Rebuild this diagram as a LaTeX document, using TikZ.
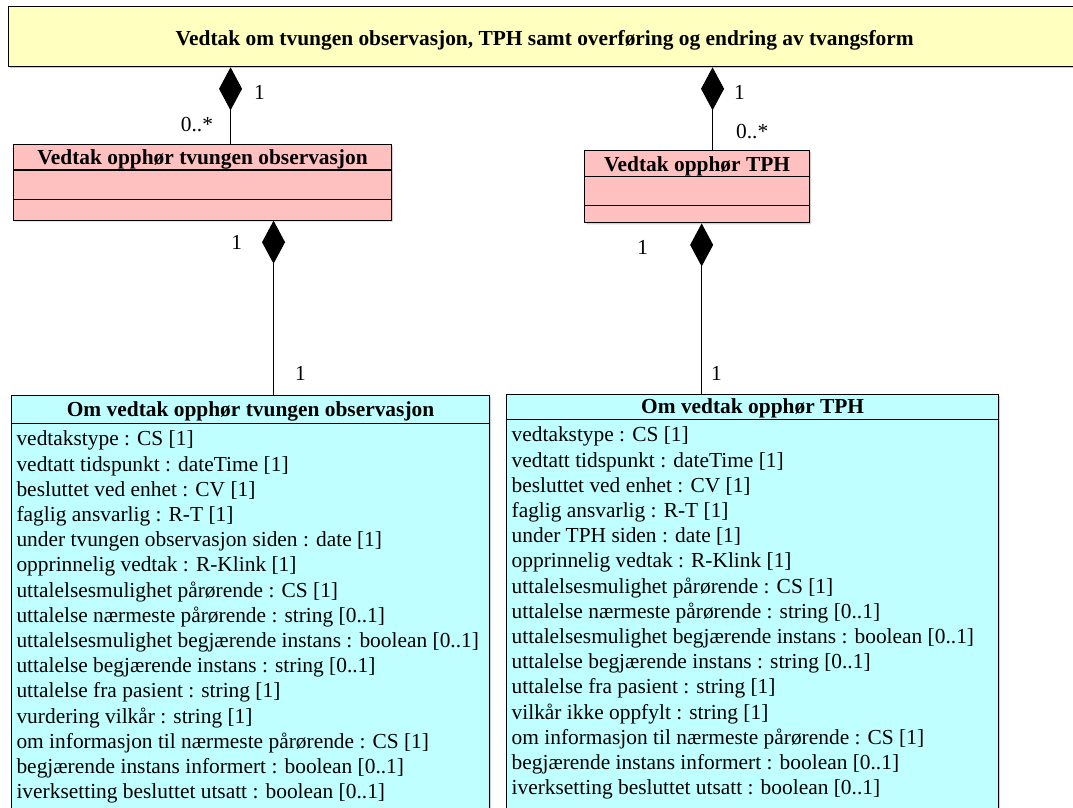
\documentclass[tikz,border=0pt]{standalone}
\usepackage{fontspec}
\setmainfont{Liberation Serif}
\usetikzlibrary{shapes, positioning, arrows.meta, shadows}
\definecolor{pakkegul}{RGB}{255,255,192}
\definecolor{klasserosa}{RGB}{255,192,192}
\definecolor{klassecyan}{RGB}{192,255,255}
\newcommand*\umlfont{\fontsize{21.4}{25.2}\selectfont}
% header line of fixed height: raise, height
\newcommand*\hode[3]{\rule[#1]{0pt}{#2}\smash{\textbf{#3}}}
\tikzset{
  pakke/.style={
    rectangle,
    draw=black, line width=1.3pt,
    fill=pakkegul,
    minimum width=1072pt,
    minimum height=60pt,
    text height=17pt, text depth=0pt,
    font=\umlfont\bfseries,
    drop shadow={shadow xshift=1.5pt, shadow yshift=-1.5pt, fill=black!40}
  },
  klasse/.style={
    rectangle,
    draw=black, line width=1.1pt,
    inner xsep=5pt, inner ysep=4pt,
    rectangle split,
    rectangle split draw splits=true,
    rectangle split part align={center, left, left},
    drop shadow={shadow xshift=1.5pt, shadow yshift=-1.5pt, fill=black!35}
  },
  komposisjon/.style={
    draw=black,
    line width=1.1pt,
    -{Diamond[length=43pt, width=23pt]}
  },
  mult/.style={
    inner sep=0pt
  }
}

\begin{document}
\begin{tikzpicture}[font=\umlfont]
\useasboundingbox (0,0) rectangle (1073pt,-807pt);

% nodes
\node[pakke, anchor=north west] (vedtak) at (8pt,-6pt)
{Vedtak om tvungen observasjon, TPH samt overføring og endring av tvangsform};

\node[klasse, rectangle split parts=3, fill=klasserosa, minimum width=378pt,
  below=77pt of vedtak.south west, anchor=north west, xshift=5pt] (vto)
{ \hode{-1pt}{16pt}{Vedtak opphør tvungen observasjon}
  \nodepart{second} \rule{0pt}{20pt}
  \nodepart{third} \rule{0pt}{12pt}
};

\node[klasse, rectangle split parts=3, fill=klasserosa, minimum width=225pt,
  anchor=north west] (vtph) at (584pt,-150pt)
{ \hode{-1pt}{17pt}{Vedtak opphør TPH}
  \nodepart{second} \rule{0pt}{20pt}
  \nodepart{third} \rule{0pt}{8pt}
};

\node[klasse, rectangle split parts=2, fill=klassecyan, minimum width=478pt,
  anchor=north west] (omto) at (11pt,-395pt)
{ \hode{-3pt}{19pt}{Om vedtak opphør tvungen observasjon}
  \nodepart{second}
  \begin{tabular}{@{}l@{}}
     vedtakstype : CS [1]\\
     vedtatt tidspunkt : dateTime [1]\\
     besluttet ved enhet : CV [1]\\
     faglig ansvarlig : R-T [1]\\
     under tvungen observasjon siden : date [1]\\
     opprinnelig vedtak : R-Klink [1]\\
     uttalelsesmulighet pårørende : CS [1]\\
     uttalelse nærmeste pårørende : string [0..1]\\
     uttalelsesmulighet begjærende instans : boolean [0..1]\\
     uttalelse begjærende instans : string [0..1]\\
     uttalelse fra pasient : string [1]\\
     vurdering vilkår : string [1]\\
     om informasjon til nærmeste pårørende : CS [1]\\
     begjærende instans informert : boolean [0..1]\\
     iverksetting besluttet utsatt : boolean [0..1]\\[20pt]
  \end{tabular}
};

\node[klasse, rectangle split parts=2, fill=klassecyan, minimum width=492pt,
  right=16pt of omto.north east, anchor=north west, yshift=1pt] (omtph)
{ \hode{-2pt}{16pt}{Om vedtak opphør TPH}
  \nodepart{second}
  \begin{tabular}{@{}l@{}}
     vedtakstype : CS [1]\\
     vedtatt tidspunkt : dateTime [1]\\
     besluttet ved enhet : CV [1]\\
     faglig ansvarlig : R-T [1]\\
     under TPH siden : date [1]\\
     opprinnelig vedtak : R-Klink [1]\\
     uttalelsesmulighet pårørende : CS [1]\\
     uttalelse nærmeste pårørende : string [0..1]\\
     uttalelsesmulighet begjærende instans : boolean [0..1]\\
     uttalelse begjærende instans : string [0..1]\\
     uttalelse fra pasient : string [1]\\
     vilkår ikke oppfylt : string [1]\\
     om informasjon til nærmeste pårørende : CS [1]\\
     begjærende instans informert : boolean [0..1]\\
     iverksetting besluttet utsatt : boolean [0..1]\\[20pt]
  \end{tabular}
};

% edges
\draw [komposisjon] ([xshift=28pt]vto.north) --
  node[mult, pos=0.675, right=23pt]{1}
  node[mult, pos=0.26, left=17pt]{0..*}
  ([xshift=28pt]vto.north |- vedtak.south);

\draw [komposisjon] ([xshift=15.5pt]vtph.north) --
  node[mult, pos=0.70, right=21pt]{1}
  node[mult, pos=0.226, right=23pt]{0..*}
  ([xshift=15.5pt]vtph.north |- vedtak.south);

\draw [komposisjon] ([xshift=23pt]omto.north) --
  node[mult, pos=0.874, left=31pt]{1}
  node[mult, pos=0.126, right=21pt]{1}
  ([xshift=23pt]omto.north |- vto.south);

\draw [komposisjon] ([xshift=-51pt]omtph.north) --
  node[mult, pos=0.86, left=53pt]{1}
  node[mult, pos=0.123, right=9pt]{1}
  ([xshift=-51pt]omtph.north |- vtph.south);
\end{tikzpicture}
\end{document}
